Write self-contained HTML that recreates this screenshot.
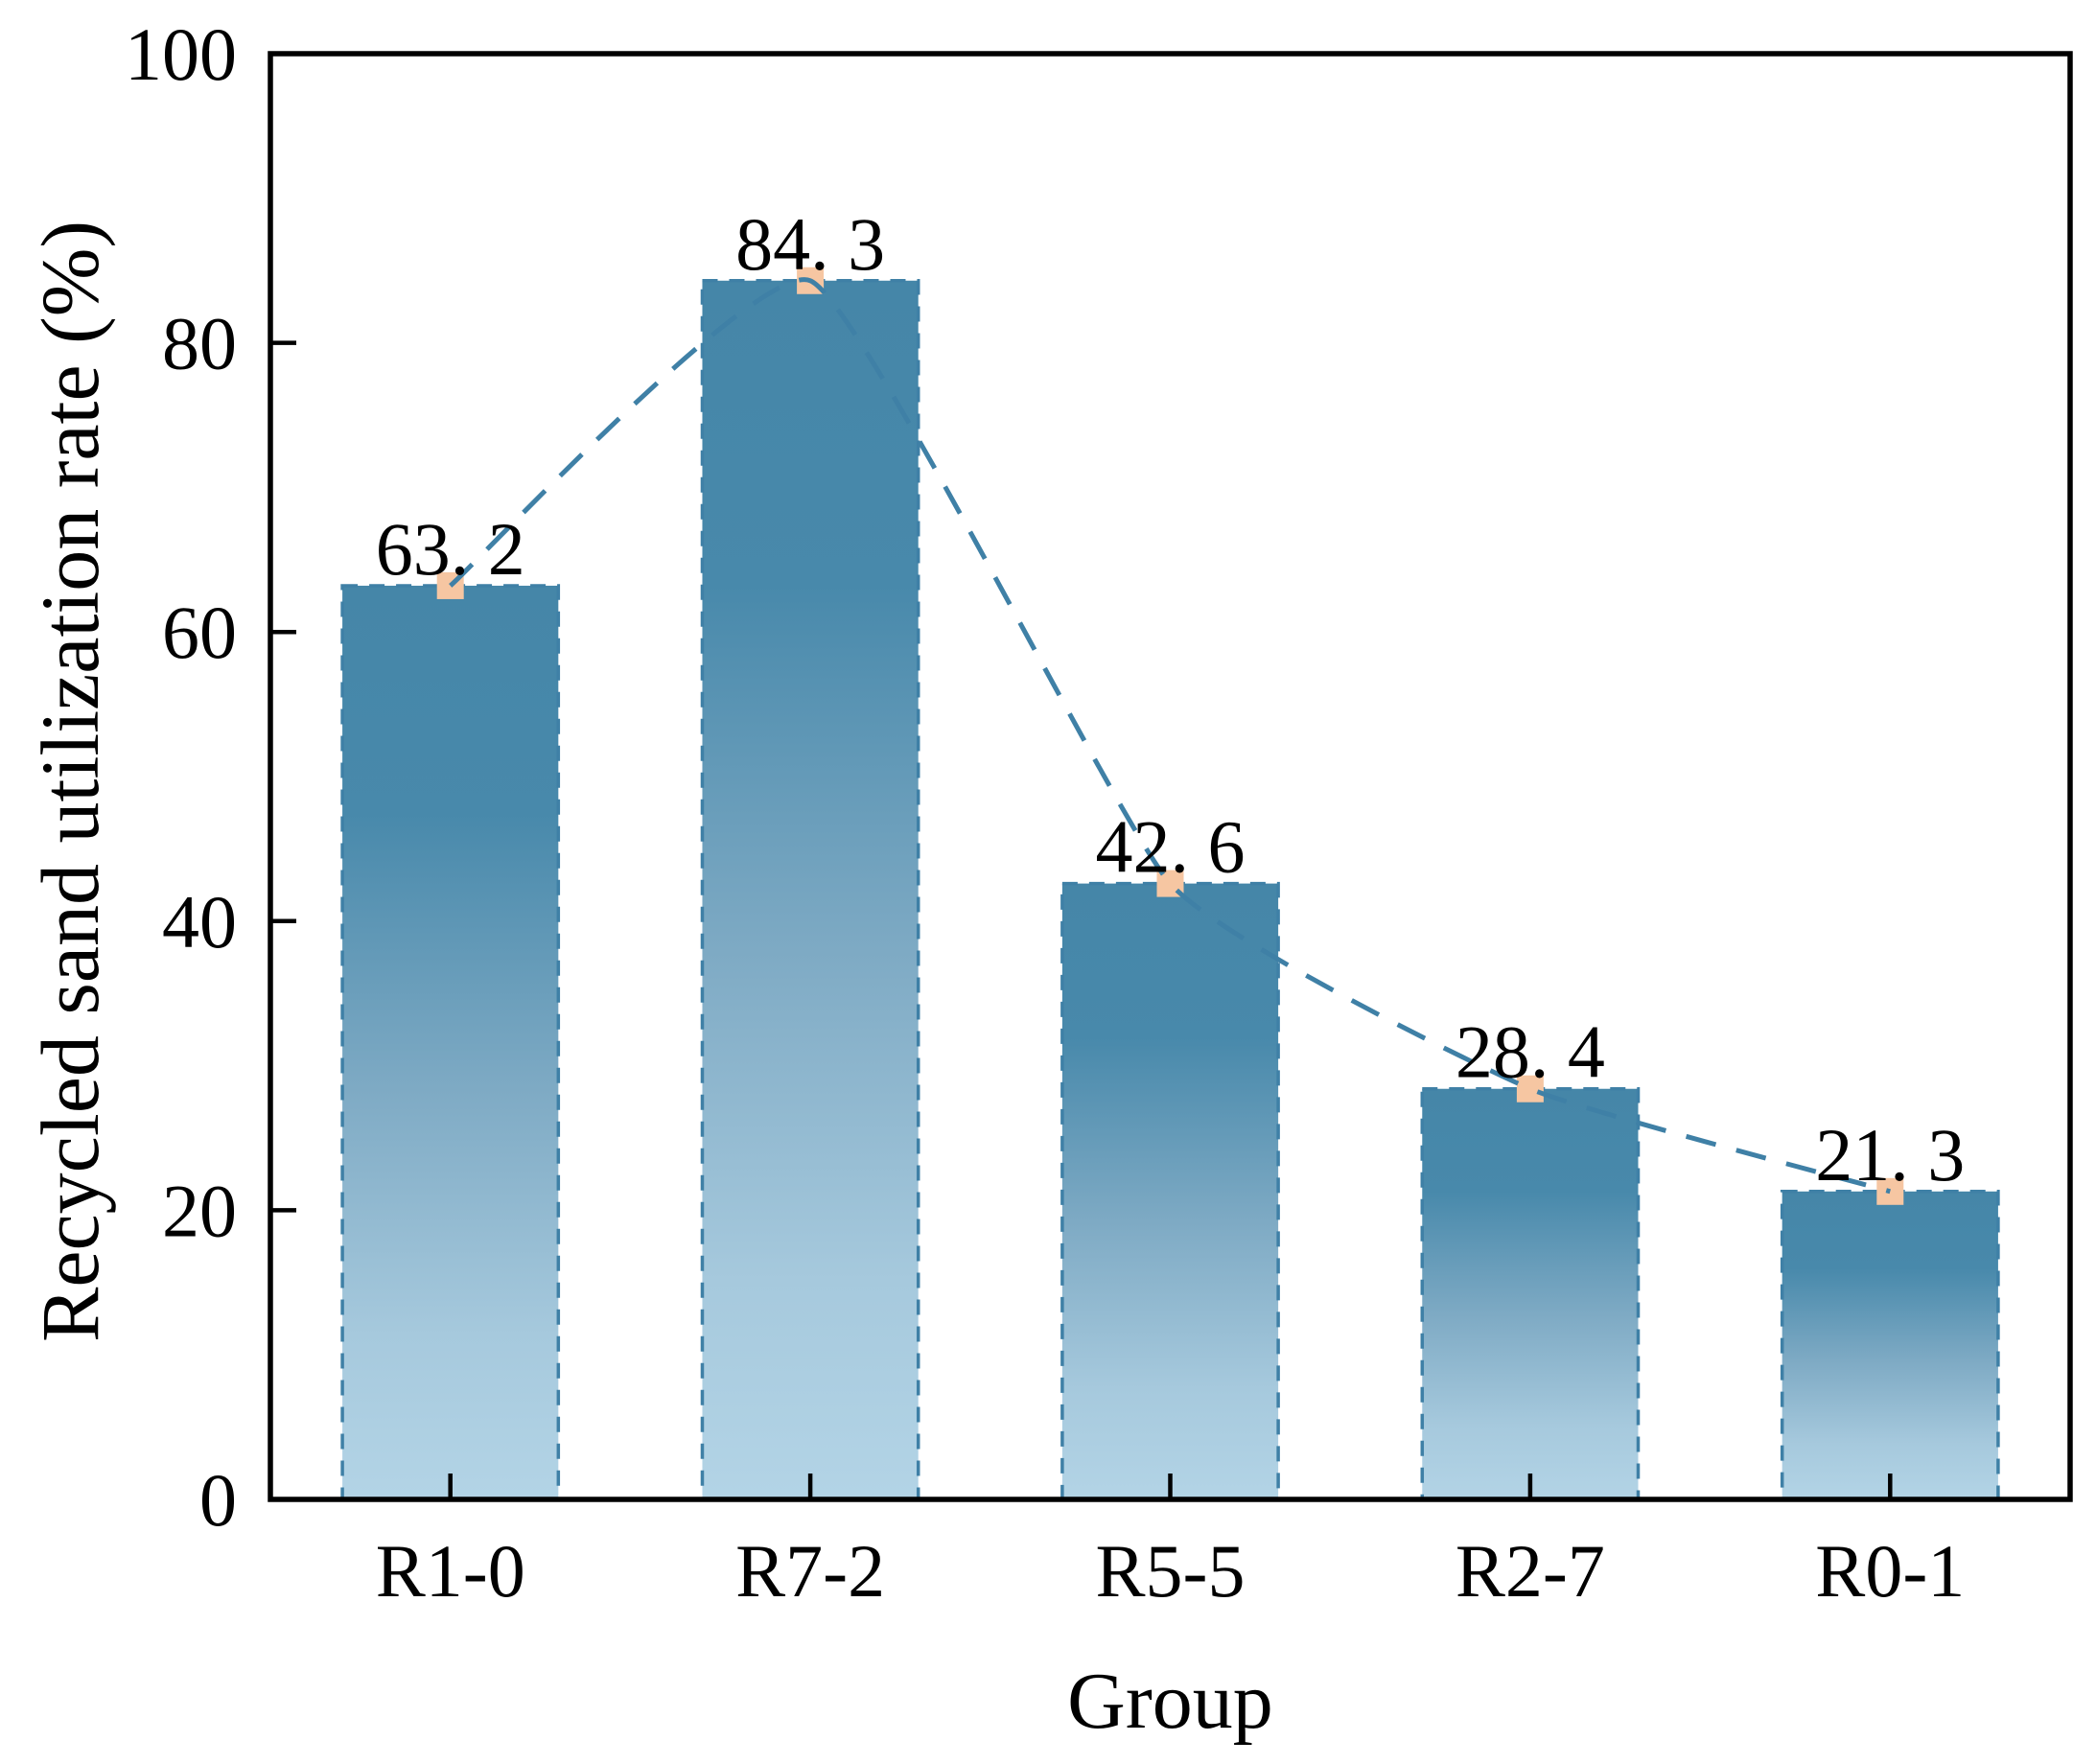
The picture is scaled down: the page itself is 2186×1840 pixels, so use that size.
<!DOCTYPE html>
<html><head><meta charset="utf-8"><style>
html,body{margin:0;padding:0;background:#fff;}
svg{display:block;font-family:"Liberation Serif",serif;}
</style></head><body>
<svg id="chart" width="2186" height="1840" viewBox="0 0 2186 1840">
<defs>
<linearGradient id="barGrad" x1="0" y1="0" x2="0" y2="1">
<stop offset="0" stop-color="#4586a8"/>
<stop offset="0.25" stop-color="#4889ab"/>
<stop offset="0.55" stop-color="#7eaac4"/>
<stop offset="0.82" stop-color="#a6c9dd"/>
<stop offset="1" stop-color="#b3d4e6"/>
</linearGradient>
</defs>
<g id="bars"></g>
<g id="markers"></g>
<g id="line"></g>
<g id="labels"></g>
<g id="axes"></g>
</svg>
<script>
const categories = ["R1-0","R7-2","R5-5","R2-7","R0-1"];
const values = [63.2,84.3,42.6,28.4,21.3];
const valueLabels = ["63. 2","84. 3","42. 6","28. 4","21. 3"];
const yTicks = [0,20,40,60,80,100];

const NS="http://www.w3.org/2000/svg";
const L=282,R=2159,T=56,B=1564;
const yMax=100;
const y=v=>B-(v/yMax)*(B-T);
const step=(R-L)/categories.length;
const x=i=>L+(i+0.5)*step;
const bw=step*0.6;
function mk(tag,attrs,parent){const e=document.createElementNS(NS,tag);for(const k in attrs)e.setAttribute(k,attrs[k]);parent.appendChild(e);return e;}
const gb=document.getElementById('bars'),gm=document.getElementById('markers'),gl=document.getElementById('line'),gt=document.getElementById('labels'),ga=document.getElementById('axes');

values.forEach((v,i)=>{
  const r=mk('rect',{x:x(i)-bw/2,y:y(v),width:bw,height:B-y(v),fill:'url(#barGrad)',stroke:'#3f80a6','stroke-width':3.5,'stroke-dasharray':'16 12'},gb);
  
  
  const m=mk('rect',{x:x(i)-14,y:y(v)-14,width:28,height:28,fill:'#f6c6a2'},gm);
  
  
  const t=mk('text',{x:x(i),y:y(v)-12,'text-anchor':'middle','font-size':78,fill:'#000'},gt);
  t.textContent=valueLabels[i];
  
  
});

// gently smoothed dashed line
const pts=values.map((v,i)=>[x(i),y(v)]);
const k=1/14;
let d='M'+pts[0][0]+','+pts[0][1];
for(let i=0;i<pts.length-1;i++){
  const p0=pts[Math.max(i-1,0)],p1=pts[i],p2=pts[i+1],p3=pts[Math.min(i+2,pts.length-1)];
  const c1=[p1[0]+(p2[0]-p0[0])*k,p1[1]+(p2[1]-p0[1])*k];
  const c2=[p2[0]-(p3[0]-p1[0])*k,p2[1]-(p3[1]-p1[1])*k];
  d+=' C'+c1+' '+c2+' '+p2;
}
const ln=mk('path',{d:d,fill:'none',stroke:'#3f80a6','stroke-width':5,'stroke-dasharray':'32 22'},gl);



const fr=mk('rect',{x:L,y:T,width:R-L,height:B-T,fill:'none',stroke:'#000','stroke-width':5.5},ga);



yTicks.forEach(v=>{
  mk('line',{x1:L,x2:L+27,y1:y(v),y2:y(v),stroke:'#000','stroke-width':4.5},ga);
  const t=mk('text',{x:247,y:y(v)+27,'text-anchor':'end','font-size':78},ga);
  t.textContent=v;
  
  
});
categories.forEach((c,i)=>{
  mk('line',{x1:x(i),x2:x(i),y1:B,y2:B-27,stroke:'#000','stroke-width':4.5},ga);
  const t=mk('text',{x:x(i),y:1665,'text-anchor':'middle','font-size':78},ga);
  t.textContent=c;
  
  
});
const xt=mk('text',{x:(L+R)/2,y:1802,'text-anchor':'middle','font-size':84},ga);
xt.textContent='Group';


const yt=mk('text',{x:0,y:0,'text-anchor':'middle','font-size':86,transform:'translate(102,815) rotate(-90)'},ga);
yt.textContent='Recycled sand utilization rate (%)';


</script>
</body></html>
